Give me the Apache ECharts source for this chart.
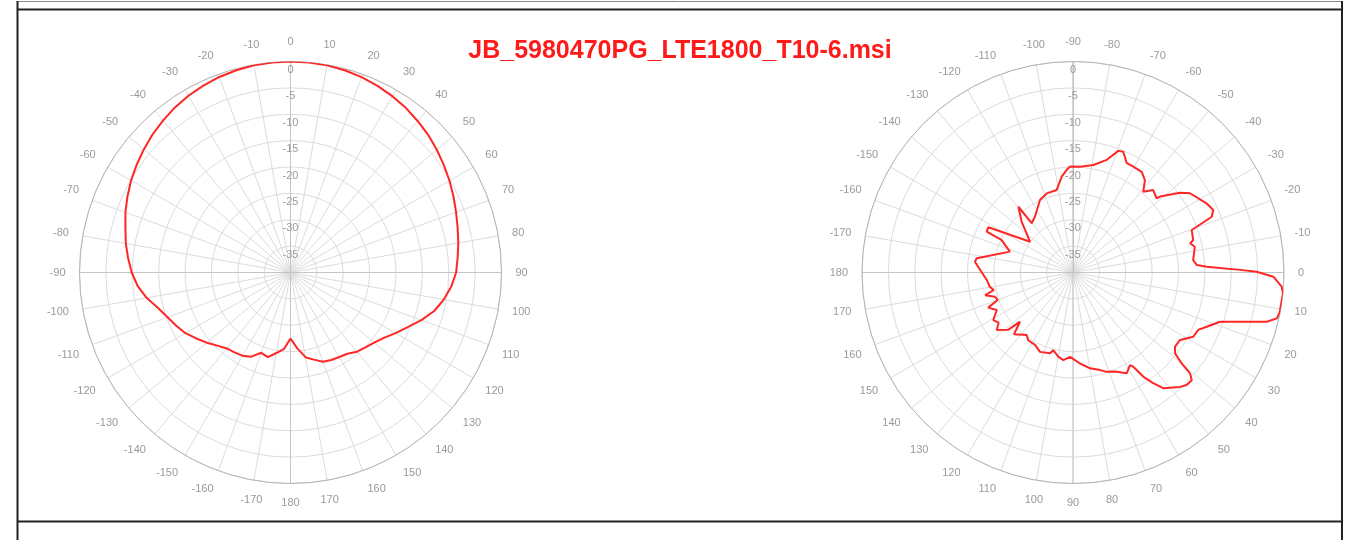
<!DOCTYPE html>
<html>
<head>
<meta charset="utf-8">
<title>JB_5980470PG_LTE1800_T10-6.msi</title>
<script src="https://cdn.jsdelivr.net/npm/echarts@6.0.0/dist/echarts.min.js"></script>
<style>
  html, body { margin: 0; padding: 0; background: #fff; }
  #main { width: 1353px; height: 540px; }
</style>
</head>
<body>
<div id="main"></div>
<script>
// title of the file shown above both diagrams
var chartTitle = 'JB_5980470PG_LTE1800_T10-6.msi';

// radial scale (dB)
var dbMin = -40;
var dbMax = 0;
var dbStep = 5;

// left diagram (0 at top, clockwise), angle in degrees, level in dB
var leftAngles = [
  -180, -175, -170, -165, -160, -155, -150, -145, -140, -135,
  -130, -125, -120, -115, -110, -105, -100, -95, -90, -85,
  -80, -75, -70, -65, -60, -55, -50, -45, -40, -35,
  -30, -25, -20, -15, -10, -5, 0, 5, 10, 15,
  20, 25, 30, 35, 40, 45, 50, 55, 60, 65,
  70, 75, 80, 85, 90, 95, 100, 105, 110, 115,
  120, 125, 130, 135, 140, 145, 150, 155, 160, 165,
  170, 175, 180
];
var leftValues = [
  -27.5, -25.4, -24.5, -23.4, -23.8, -22.4, -21.8, -21.5, -21.2, -20.4,
  -19.3, -18.2, -17.0, -16.1, -15.2, -14.0, -12.3, -10.9, -9.9, -9.1,
  -8.3, -7.6, -6.7, -5.9, -5.1, -4.4, -3.7, -3.0, -2.4, -1.8,
  -1.3, -0.9, -0.55, -0.3, -0.12, -0.03, 0, -0.03, -0.13, -0.3,
  -0.6, -0.95, -1.4, -1.9, -2.5, -3.1, -3.8, -4.5, -5.2, -5.9,
  -6.6, -7.2, -7.7, -8.2, -8.6, -9.4, -10.5, -11.8, -13.6, -15.5,
  -17.0, -18.4, -19.3, -19.9, -20.4, -21.2, -21.5, -21.7, -22.0, -22.9,
  -23.7, -25.6, -27.5
];

// right diagram (0 at right, clockwise), angle in degrees, level in dB
var rightAngles = [
  -178.5, -173.7, -171.6, -161.7, -155.5, -154.7, -151.9, -144.4, -135.3, -129.7,
  -130.0, -124.3, -114.5, -108.4, -101.2, -96.7, -93.5, -91.6, -86.2, -79.3,
  -73.3, -69.6, -67.4, -63.8, -60.3, -55.7, -52.1, -49.0, -45.8, -41.6,
  -41.1, -36.7, -34.1, -27.4, -24.0, -21.9, -20.3, -19.7, -15.1, -14.0,
  -11.9, -5.9, -3.5, -2.5, -0.9, -0.25, 1.2, 3.9, 5.65, 11.0,
  12.7, 14.25, 18.5, 22.1, 24.65, 28.1, 32.2, 36.0, 38.4, 39.9,
  40.75, 42.2, 44.7, 46.9, 48.9, 52.05, 54.1, 56.0, 57.4, 58.4,
  61.95, 67.05, 71.2, 74.5, 79.9, 85.6, 92.0, 96.3, 99.9, 104.3,
  105.9, 112.6, 117.65, 123.5, 126.5, 133.7, 137.1, 138.5, 143.0, 146.0,
  149.2, 153.8, 157.5, 160.0, 162.8, 165.5, 167.5, 170.3, 175.0, 181.5
];
var rightValues = [
  -22.4, -21.3, -21.55, -27.4, -25.1, -21.9, -21.8, -30.0, -26.3, -23.8,
  -27.8, -27.2, -24.9, -24.2, -24.05, -21.7, -20.5, -19.9, -19.9, -19.25,
  -17.7, -15.4, -15.2, -16.9, -16.9, -16.9, -17.8, -19.7, -18.2, -18.8,
  -18.1, -14.7, -13.2, -11.5, -10.9, -11.65, -15.0, -16.1, -16.4, -17.1,
  -16.4, -17.1, -16.5, -14.6, -8.3, -5.2, -2.0, -0.35, 0, -0.1,
  -0.4, -2.1, -10.6, -12.65, -13.9, -14.15, -16.0, -16.1, -15.3, -13.15,
  -10.7, -9.6, -9.7, -10.3, -11.1, -12.2, -14.1, -16.2, -18.8, -19.4,
  -18.35, -19.6, -20.1, -20.8, -21.55, -22.7, -24.0, -23.3, -23.8, -24.8,
  -24.1, -23.7, -24.5, -24.6, -25.25, -23.8, -26.3, -23.6, -21.9, -23.0,
  -22.4, -23.9, -22.6, -24.8, -24.5, -22.8, -24.6, -24.0, -23.6, -22.4
];

var labelColor = '#9a9a9a';
var gridColor = '#dcdcdc';
var crossColor = '#c4c4c4';
var traceColor = '#ff2626';

// left: tick value v (0..360 from the top) shown as -180..180
function leftLabel(v) {
  return v > 180 ? String(v - 360) : String(v);
}
function leftAngle(a) {
  return (a + 360) % 360;
}
// right: tick value v (0 at top) shown with 0 at the right
function rightLabel(v) {
  var a = v - 90;
  if (a > 180) a -= 360;
  return String(a);
}
function rightAngle(a) {
  return ((a + 90) % 360 + 360) % 360;
}

var leftData = leftAngles.map(function (a, i) { return [leftValues[i], leftAngle(a)]; });
var rightData = rightAngles.map(function (a, i) { return [rightValues[i], rightAngle(a)]; });

var centers = [[290.5, 272.5], [1073, 272.5], [290.5, 272.5], [1073, 272.5]];
var radius = 211;

function baseAngleAxis(idx, fmt) {
  return {
    polarIndex: idx,
    type: 'value',
    min: 0,
    max: 360,
    interval: 10,
    startAngle: 90,
    clockwise: true,
    axisLine: { lineStyle: { color: '#b5b5b5', width: 1 } },
    axisTick: { show: false },
    axisLabel: {
      color: labelColor, fontSize: 11, margin: 14,
      fontFamily: 'Liberation Sans, Arial, sans-serif',
      formatter: fmt
    },
    splitLine: { lineStyle: { color: gridColor, width: 1 } }
  };
}
function baseRadiusAxis(idx) {
  return {
    polarIndex: idx,
    type: 'value',
    min: dbMin,
    max: dbMax,
    interval: dbStep,
    axisLine: { lineStyle: { color: crossColor, width: 1 } },
    axisTick: { show: false },
    axisLabel: {
      color: labelColor, fontSize: 11, margin: 0,
      align: 'center', verticalAlign: 'top',
      padding: [3, 0, 0, 0],
      fontFamily: 'Liberation Sans, Arial, sans-serif',
      showMinLabel: false
    },
    splitLine: { lineStyle: { color: gridColor, width: 1 } }
  };
}
// overlay polars only draw the darker cross lines
function crossAngleAxis(idx) {
  return {
    polarIndex: idx,
    type: 'value',
    min: 0, max: 360, interval: 90,
    startAngle: 90, clockwise: true,
    axisLine: { show: false },
    axisTick: { show: false },
    axisLabel: { show: false },
    splitLine: { lineStyle: { color: crossColor, width: 1 } }
  };
}
function crossRadiusAxis(idx) {
  return {
    polarIndex: idx, type: 'value', min: dbMin, max: dbMax,
    axisLine: { show: false }, axisTick: { show: false },
    axisLabel: { show: false }, splitLine: { show: false }
  };
}

var frame = '#222';
var option = {
  animation: false,
  backgroundColor: '#fff',
  title: {
    text: chartTitle,
    left: 680,
    textAlign: 'center',
    top: 39,
    padding: 0,
    textStyle: {
      color: '#ff1a1a', fontSize: 25, fontWeight: 'bold',
      fontFamily: 'Liberation Sans, Arial, sans-serif'
    }
  },
  graphic: [
    { type: 'line', shape: { x1: 17, y1: 1.5, x2: 1342, y2: 1.5 }, style: { stroke: '#8a8a8a', lineWidth: 1 } },
    { type: 'line', shape: { x1: 17, y1: 9.5, x2: 1342, y2: 9.5 }, style: { stroke: frame, lineWidth: 2 } },
    { type: 'line', shape: { x1: 17.5, y1: 1, x2: 17.5, y2: 540 }, style: { stroke: frame, lineWidth: 2 } },
    { type: 'line', shape: { x1: 1342, y1: 1, x2: 1342, y2: 540 }, style: { stroke: frame, lineWidth: 2 } },
    { type: 'line', shape: { x1: 17, y1: 521.5, x2: 1342, y2: 521.5 }, style: { stroke: frame, lineWidth: 2 } }
  ],
  polar: centers.map(function (c) { return { center: c, radius: radius }; }),
  angleAxis: [
    baseAngleAxis(0, leftLabel),
    baseAngleAxis(1, rightLabel),
    crossAngleAxis(2),
    crossAngleAxis(3)
  ],
  radiusAxis: [
    baseRadiusAxis(0),
    baseRadiusAxis(1),
    crossRadiusAxis(2),
    crossRadiusAxis(3)
  ],
  series: [
    {
      name: 'left', type: 'line', coordinateSystem: 'polar', polarIndex: 0,
      data: leftData, showSymbol: false, symbol: 'none', z: 5,
      lineStyle: { color: traceColor, width: 2 }
    },
    {
      name: 'right', type: 'line', coordinateSystem: 'polar', polarIndex: 1,
      data: rightData, showSymbol: false, symbol: 'none', z: 5,
      lineStyle: { color: traceColor, width: 2 }
    }
  ]
};

var myChart = echarts.init(document.getElementById('main'));
myChart.setOption(option);
</script>
</body>
</html>
